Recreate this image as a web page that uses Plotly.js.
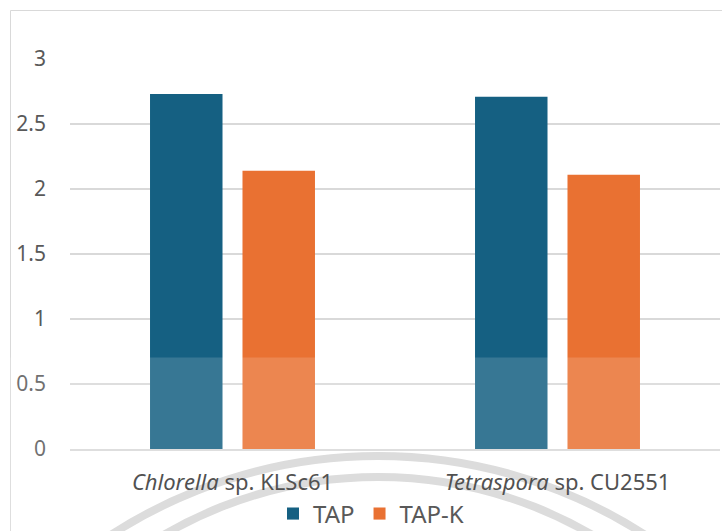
<!DOCTYPE html>
<html>
<head>
<meta charset="utf-8">
<script src="https://cdn.plot.ly/plotly-3.0.1.min.js"></script>
<style>
  html, body { margin: 0; padding: 0; background: #ffffff; }
  #chart { width: 722px; height: 531px; }
</style>
</head>
<body>
<div id="chart"></div>
<script>
// Strains on the category axis (genus name in italics)
const strains = ['<i>Chlorella</i> sp. KLSc61', '<i>Tetraspora</i> sp. CU2551'];

// One series per culture medium
const seriesNames = ['TAP', 'TAP-K'];
const tapValues = [2.73, 2.71];
const tapKValues = [2.14, 2.11];

const yTicks = [0, 0.5, 1, 1.5, 2, 2.5, 3];
const yTickLabels = ['0', '0.5', '1', '1.5', '2', '2.5', '3'];

const colors = ['#156082', '#E97132'];

// Plot-area geometry in pixels, used to place paper-referenced decorations
const W = 722, H = 531;
const M = { l: 70, r: 2, t: 59, b: 82, autoexpand: false };
const plotW = W - M.l - M.r;
const plotH = H - M.t - M.b;
const px = x => (x - M.l) / plotW;
const py = y => (H - M.b - y) / plotH;

const traces = [
  { type: 'bar', name: seriesNames[0], x: strains, y: tapValues,
    marker: { color: colors[0], line: { width: 0 } }, hoverinfo: 'x+y' },
  { type: 'bar', name: seriesNames[1], x: strains, y: tapKValues,
    marker: { color: colors[1], line: { width: 0 } }, hoverinfo: 'x+y' }
];

// Faint seal rings behind the lower part of the chart
function ring(cx, cy, r, width) {
  return {
    type: 'circle', xref: 'paper', yref: 'paper', layer: 'below',
    x0: px(cx - r), x1: px(cx + r), y0: py(cy + r), y1: py(cy - r),
    line: { color: '#d6d6d6', width: width }, fillcolor: 'rgba(0,0,0,0)'
  };
}

const shapes = [
  // chart-area frame
  { type: 'rect', xref: 'paper', yref: 'paper', layer: 'below',
    x0: px(10.5), x1: px(760), y0: py(560), y1: py(10.5),
    line: { color: '#d9d9d9', width: 1 }, fillcolor: 'rgba(0,0,0,0)' },
  ring(378, 947, 491, 8),
  ring(378, 902, 425, 8),
  // light veil across the lower band
  { type: 'rect', xref: 'paper', yref: 'paper', layer: 'above',
    x0: px(-20), x1: px(760), y0: py(560), y1: py(357.5),
    line: { width: 0 }, fillcolor: 'rgba(255,255,255,0.15)' }
];

const layout = {
  width: W, height: H,
  margin: M,
  paper_bgcolor: '#ffffff',
  plot_bgcolor: 'rgba(0,0,0,0)',
  font: { family: '"Noto Sans", "Open Sans", sans-serif', color: '#595959' },
  barmode: 'group',
  bargap: 0.431,
  bargroupgap: 0.216,
  showlegend: true,
  legend: {
    orientation: 'h', xanchor: 'center', yanchor: 'middle',
    x: px(371), y: py(514),
    font: { size: 24, color: '#595959' },
    bgcolor: 'rgba(0,0,0,0)', itemwidth: 30, tracegroupgap: 0
  },
  xaxis: {
    type: 'category',
    showgrid: false, zeroline: false,
    showline: true, linecolor: '#d9d9d9', linewidth: 1.5,
    ticks: '', ticklabelstandoff: 13,
    tickfont: { size: 22, color: '#333333' },
    fixedrange: true
  },
  yaxis: {
    range: [0, 3],
    tickvals: yTicks, ticktext: yTickLabels,
    showgrid: true, gridcolor: '#d9d9d9', gridwidth: 1.5,
    zeroline: false, showline: false, ticks: '',
    ticklabelstandoff: 23,
    tickfont: { size: 21, color: '#595959' },
    fixedrange: true
  },
  shapes: shapes
};

Plotly.newPlot('chart', traces, layout, { displayModeBar: false, staticPlot: true });
</script>
</body>
</html>
